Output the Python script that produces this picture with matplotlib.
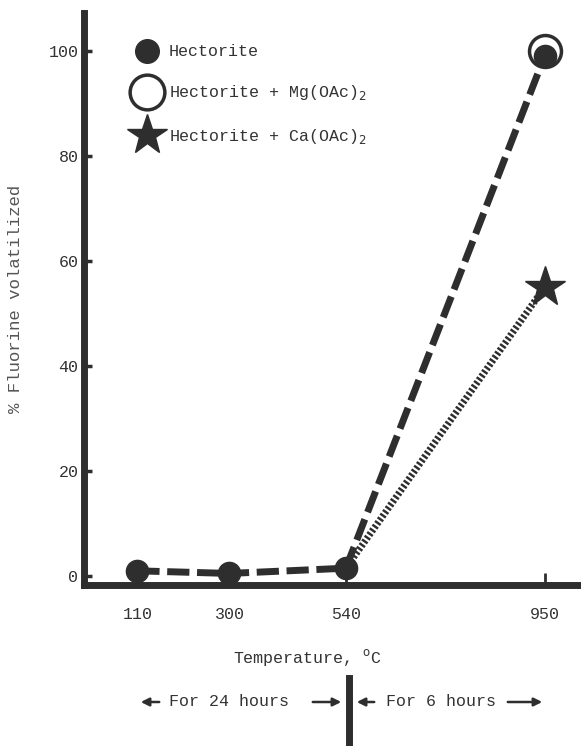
from matplotlib import pyplot as plt
from matplotlib.lines import Line2D
from matplotlib.patches import FancyArrowPatch

# values
temps = [110, 300, 540, 950]
temp_labels = ["110", "300", "540", "950"]
hectorite = [1.0, 0.5, 1.5, 99.0]
mg_temp = [950]
mg_value = [100.0]
ca_temps = [540, 950]
ca_values = [1.5, 55.0]
yticks = [0, 20, 40, 60, 80, 100]

W, H = 581, 746
ink = "#2e2e2e"
txt = "#333333"
plt.rcParams["font.family"] = ["Liberation Mono", "DejaVu Sans"]


def fx(x):
    return x / W


def fy(y):
    return 1 - y / H


fig = plt.figure(figsize=(W / 100, H / 100), dpi=100)
ax = fig.add_axes([fx(84), fy(585), fx(581) - fx(84), (585 - 13) / H])

# dashed line: hectorite / Mg(OAc)2 run
ax.plot(temps, hectorite, color=ink, lw=5, linestyle=(0, (3.2, 1.1)),
        solid_capstyle="butt", zorder=2)
# dotted line to the Ca(OAc)2 point
ax.plot(ca_temps, ca_values, color=ink, lw=5, linestyle=(0, (0.35, 0.3)),
        zorder=2)

ax.plot(mg_temp, mg_value, "o", ms=23, mfc="white", mec=ink, mew=2.5, zorder=3)
ax.plot(temps, hectorite, "o", ms=16, color=ink, lw=0, zorder=4)
ax.plot([ca_temps[-1]], [ca_values[-1]], "*", ms=30, color=ink, zorder=4)

ax.set_xlim(0, 1025)
ax.set_ylim(-1.7, 107.2)
ax.set_xticks(temps)
ax.set_xticklabels(temp_labels)
ax.set_yticks(yticks)

for side in ["top", "right"]:
    ax.spines[side].set_visible(False)
for side in ["left", "bottom"]:
    ax.spines[side].set_linewidth(5)
    ax.spines[side].set_color(ink)
    ax.spines[side].set_capstyle("projecting")

ax.tick_params(axis="y", direction="in", length=6, width=2.5, color=ink,
               pad=4, labelsize=12, labelcolor=txt)
ax.tick_params(axis="x", direction="in", length=9, width=2, color=ink,
               pad=16, labelsize=12, labelcolor=txt)

ax.set_ylabel("% Fluorine volatilized", fontsize=12.5, color="#555555",
              labelpad=18)

# legend
handles = [
    Line2D([], [], marker="o", ms=17, color=ink, lw=0),
    Line2D([], [], marker="o", ms=25, mfc="white", mec=ink, mew=2.5, lw=0),
    Line2D([], [], marker="*", ms=30, color=ink, lw=0),
]
labels = ["Hectorite", "Hectorite + Mg(OAc)$_2$", "Hectorite + Ca(OAc)$_2$"]
fig.legend(handles, labels, loc="upper left",
           bbox_to_anchor=(fx(125), fy(36)), frameon=False, fontsize=12,
           handlelength=1.6, handletextpad=0.52, labelspacing=1.45,
           borderpad=0, labelcolor=txt)

# x label and duration notes
fig.text(fx(307), fy(658), "Temperature, $^{\\mathrm{o}}$C", fontsize=12,
         color=txt, ha="center", va="center")

fig.text(fx(229), fy(702), "For 24 hours", fontsize=12, color=txt,
         ha="center", va="center")
fig.text(fx(441), fy(702), "For 6 hours", fontsize=12, color=txt,
         ha="center", va="center")
fig.add_artist(Line2D([fx(349), fx(349)], [fy(678), fy(746)],
                      transform=fig.transFigure, color=ink, lw=5))
for x0, x1 in [(162, 138), (310, 344), (377, 354), (505, 545)]:
    fig.add_artist(FancyArrowPatch(
        (fx(x0), fy(702)), (fx(x1), fy(702)), transform=fig.transFigure,
        arrowstyle="-|>", color=ink, lw=1.8, mutation_scale=12))

fig.savefig("out.png", dpi=100)
